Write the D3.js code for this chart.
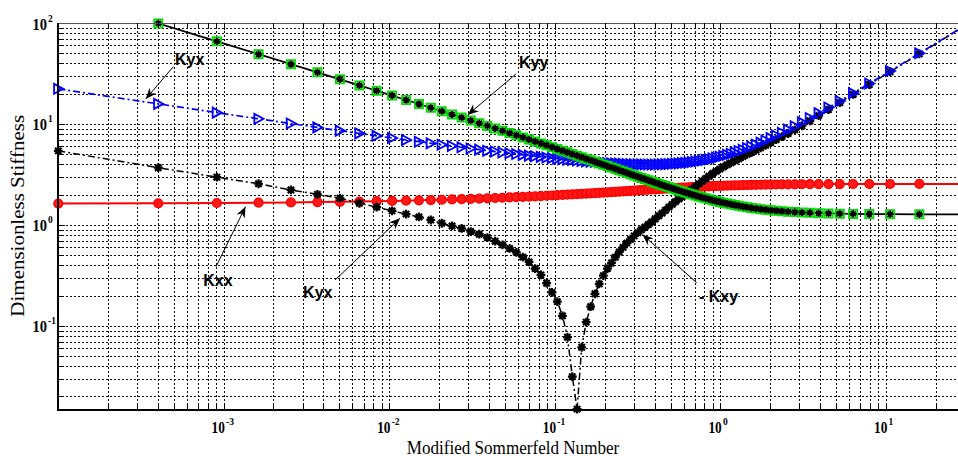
<!DOCTYPE html>
<html>
<head>
<meta charset="utf-8">
<script src="https://cdn.jsdelivr.net/npm/d3@7"></script>
<style>
  body { margin: 0; background: #fff; }
  svg { display: block; }
</style>
</head>
<body>
<svg id="drawing_region"></svg>
<script>
// Modified Sommerfeld number of every computed point (high to low eccentricity)
const sommerfeld = [
  1.004e-4, 4.031e-4, 9.106e-4, 1.625e-3, 2.550e-3, 3.687e-3, 5.039e-3, 6.609e-3, 8.399e-3, 1.0414e-2,
  1.2655e-2, 1.5127e-2, 1.7833e-2, 2.0775e-2, 2.3958e-2, 2.7385e-2, 3.1062e-2, 3.4990e-2, 3.9174e-2, 4.3620e-2,
  4.8331e-2, 5.3313e-2, 5.8570e-2, 6.4109e-2, 6.9933e-2, 7.6050e-2, 8.2464e-2, 8.9180e-2, 9.6212e-2, 0.10356,
  0.11123, 0.11924, 0.12759, 0.13630, 0.14536, 0.15479, 0.16461, 0.17481, 0.18542, 0.19644,
  0.20790, 0.21980, 0.23216, 0.24501, 0.25834, 0.27219, 0.28656, 0.30151, 0.31703, 0.33316,
  0.34993, 0.36736, 0.38549, 0.40436, 0.42400, 0.44448, 0.46578, 0.48803, 0.51127, 0.53552,
  0.56088, 0.58743, 0.61525, 0.64443, 0.67509, 0.70733, 0.74128, 0.77709, 0.81500, 0.85506,
  0.89761, 0.94286, 0.99112, 1.0427, 1.0980, 1.1574, 1.2215, 1.2909, 1.3665, 1.4489,
  1.5394, 1.6393, 1.7501, 1.8740, 2.0136, 2.1722, 2.3542, 2.5653, 2.8136, 3.1102,
  3.4710, 3.9203, 4.4959, 5.2611, 6.3296, 7.9288, 10.588, 15.901, 31.824
];

// dimensionless stiffness, same order as sommerfeld
const kxx = [
  1.628, 1.639, 1.650, 1.661, 1.672, 1.684, 1.695, 1.706, 1.718, 1.729,
  1.741, 1.753, 1.764, 1.776, 1.788, 1.800, 1.812, 1.824, 1.836, 1.848,
  1.860, 1.872, 1.884, 1.896, 1.908, 1.921, 1.933, 1.945, 1.957, 1.970,
  1.982, 1.994, 2.006, 2.019, 2.031, 2.043, 2.055, 2.067, 2.080, 2.092,
  2.104, 2.116, 2.128, 2.140, 2.152, 2.163, 2.175, 2.187, 2.198, 2.210,
  2.221, 2.233, 2.244, 2.255, 2.266, 2.277, 2.287, 2.298, 2.309, 2.319,
  2.329, 2.339, 2.349, 2.359, 2.368, 2.377, 2.386, 2.395, 2.404, 2.413,
  2.421, 2.429, 2.437, 2.444, 2.452, 2.459, 2.466, 2.472, 2.479, 2.485,
  2.491, 2.496, 2.502, 2.507, 2.511, 2.516, 2.520, 2.524, 2.527, 2.531,
  2.534, 2.536, 2.539, 2.541, 2.543, 2.544, 2.545, 2.546, 2.546
];

const kyy = [
  199.1, 99.14, 65.80, 49.13, 39.12, 32.45, 27.68, 24.11, 21.32, 19.10,
  17.27, 15.75, 14.46, 13.36, 12.40, 11.56, 10.82, 10.16, 9.574, 9.043,
  8.561, 8.123, 7.723, 7.355, 7.017, 6.704, 6.414, 6.145, 5.894, 5.659,
  5.440, 5.234, 5.040, 4.857, 4.685, 4.522, 4.368, 4.222, 4.083, 3.951,
  3.826, 3.706, 3.592, 3.483, 3.380, 3.280, 3.185, 3.094, 3.007, 2.923,
  2.843, 2.766, 2.692, 2.621, 2.553, 2.487, 2.424, 2.364, 2.305, 2.249,
  2.195, 2.144, 2.094, 2.046, 2.000, 1.955, 1.913, 1.872, 1.833, 1.795,
  1.759, 1.724, 1.691, 1.659, 1.629, 1.600, 1.573, 1.546, 1.521, 1.498,
  1.475, 1.454, 1.434, 1.416, 1.398, 1.382, 1.367, 1.353, 1.340, 1.328,
  1.318, 1.308, 1.300, 1.293, 1.287, 1.282, 1.278, 1.275, 1.274
];

const kyx = [
  22.28, 15.81, 12.95, 11.25, 10.10, 9.25, 8.59, 8.07, 7.63, 7.26,
  6.95, 6.68, 6.44, 6.23, 6.04, 5.87, 5.71, 5.57, 5.44, 5.33,
  5.22, 5.12, 5.03, 4.94, 4.86, 4.79, 4.72, 4.65, 4.59, 4.53,
  4.48, 4.43, 4.39, 4.34, 4.30, 4.26, 4.23, 4.20, 4.17, 4.14,
  4.11, 4.09, 4.07, 4.05, 4.03, 4.02, 4.00, 3.99, 3.98, 3.98,
  3.97, 3.97, 3.97, 3.97, 3.98, 3.99, 4.00, 4.01, 4.03, 4.05,
  4.07, 4.10, 4.13, 4.16, 4.20, 4.25, 4.30, 4.35, 4.41, 4.48,
  4.56, 4.64, 4.74, 4.84, 4.96, 5.08, 5.23, 5.39, 5.56, 5.76,
  5.99, 6.24, 6.53, 6.86, 7.24, 7.68, 8.19, 8.79, 9.51, 10.38,
  11.46, 12.80, 14.55, 16.89, 20.19, 25.15, 33.45, 50.07, 100.0
];

// |Kxy|: falls through zero near S = 0.14, then rises as -Kxy
const kxyAbs = [
  5.41, 3.69, 2.97, 2.56, 2.22, 2.01, 1.84, 1.64, 1.50, 1.38,
  1.28, 1.20, 1.12, 1.04, 0.977, 0.923, 0.86, 0.81, 0.75, 0.69,
  0.635, 0.585, 0.535, 0.48, 0.43, 0.37, 0.32, 0.265, 0.215, 0.174,
  0.126, 0.0773, 0.0315, 0.0150, 0.0615, 0.109, 0.155, 0.208, 0.261, 0.315,
  0.37, 0.42, 0.48, 0.54, 0.60, 0.66, 0.72, 0.78, 0.84, 0.895,
  0.95, 1.01, 1.07, 1.15, 1.23, 1.31, 1.40, 1.50, 1.60, 1.70,
  1.80, 1.91, 2.02, 2.14, 2.26, 2.40, 2.55, 2.71, 2.87, 3.04,
  3.23, 3.40, 3.57, 3.76, 3.95, 4.12, 4.32, 4.52, 4.75, 5.00,
  5.22, 5.50, 5.80, 6.15, 6.55, 7.00, 7.50, 8.05, 8.75, 9.60,
  10.75, 12.1, 13.9, 16.3, 19.6, 24.6, 32.9, 49.5, 99.5
];

const xTickExponents = [-3, -2, -1, 0, 1];
const yTickExponents = [-1, 0, 1, 2];
const xTitle = 'Modified Sommerfeld Number';
const yTitle = 'Dimensionless Stiffness';

// annotations, in data units (S, stiffness)
const noteLabels = ['Kyx', 'Kyy', 'Kxx', 'Kyx', '- Kxy'];
const noteTextAt = [[5.09e-4, 38.4], [0.0608, 35.6], [7.54e-4, 0.2485], [3.02e-3, 0.1877], [0.743, 0.1737]];
const noteArrowFrom = [[4.97e-4, 36.9], [0.0583, 31.3], [9.0e-4, 0.386], [4.71e-3, 0.285], [0.719, 0.268]];
const noteArrowTo = [[3.39e-4, 17.7], [0.0298, 12.3], [1.356e-3, 1.516], [0.01162, 1.164], [0.3385, 0.804]];

var config = {
    width: 958,
    height: 456,
    left: 58,
    top: 23,
    bottom: 410,
    decade: 165.6
};

const svg = d3.select('#drawing_region')
    .attr('width', config.width)
    .attr('height', config.height);

const x = d3.scaleLog()
    .domain([1e-4, Math.pow(10, 1.5)])
    .range([config.left, config.left + 5.5 * config.decade]);

const y = d3.scaleLog()
    .domain([0.0147, 100])
    .range([config.bottom, config.top]);

const right = config.width;

svg.append('defs').append('clipPath').attr('id', 'plotclip')
    .append('rect')
    .attr('x', config.left).attr('y', config.top)
    .attr('width', right - config.left).attr('height', config.bottom - config.top);

svg.select('defs').append('marker')
    .attr('id', 'arrowhead')
    .attr('markerUnits', 'userSpaceOnUse')
    .attr('markerWidth', 14).attr('markerHeight', 14)
    .attr('refX', 0).attr('refY', 0)
    .attr('viewBox', '-12 -7 14 14')
    .attr('orient', 'auto')
    .append('path')
    .attr('d', 'M0,0 L-11,-4.5 L-7.5,0 L-11,4.5 Z')
    .attr('fill', '#000');

// grid
const grid = svg.append('g').attr('shape-rendering', 'crispEdges');
const xGrid = x.ticks().filter(t => x(t) > config.left + 1 && x(t) < right);
const yGrid = y.ticks().filter(t => y(t) > config.top + 1 && y(t) < config.bottom - 1);

grid.selectAll('.vg').data(xGrid).enter().append('line')
    .attr('x1', d => Math.round(x(d)) + 0.5).attr('x2', d => Math.round(x(d)) + 0.5)
    .attr('y1', config.top).attr('y2', config.bottom)
    .attr('stroke', '#111').attr('stroke-width', 1)
    .attr('stroke-dasharray', '2,2');

grid.selectAll('.hg').data(yGrid).enter().append('line')
    .attr('y1', d => Math.round(y(d)) + 0.5).attr('y2', d => Math.round(y(d)) + 0.5)
    .attr('x1', config.left).attr('x2', right)
    .attr('stroke', '#111').attr('stroke-width', 1)
    .attr('stroke-dasharray', '2,2');

// series
const plot = svg.append('g');
const inside = (s, v) => s >= x.domain()[0] * 0.999 && s <= 27.5 && v >= y.domain()[0] && v <= y.domain()[1] * 1.001;

function drawSeries(values, lineStyle, markerPath, markerStyle) {
    const pts = sommerfeld.map((s, i) => ({ s: s, v: values[i] }));
    if (lineStyle) {
        const line = d3.line().x(d => x(d.s)).y(d => y(d.v));
        plot.append('path')
            .datum(pts)
            .attr('clip-path', 'url(#plotclip)')
            .attr('d', line)
            .attr('fill', 'none')
            .attr('stroke', lineStyle.color)
            .attr('stroke-width', lineStyle.width)
            .attr('stroke-dasharray', lineStyle.dash || null);
    }
    plot.append('g').selectAll('path')
        .data(pts.filter(d => inside(d.s, d.v)))
        .enter()
        .append('path')
        .attr('transform', d => `translate(${x(d.s)},${y(d.v)})`)
        .attr('d', markerPath)
        .attr('fill', markerStyle.fill)
        .attr('stroke', markerStyle.stroke)
        .attr('stroke-width', markerStyle.width);
}

function asterisk(r) {
    const k = r * 0.72;
    return `M${-r},0H${r}M0,${-r}V${r}M${-k},${-k}L${k},${k}M${-k},${k}L${k},${-k}`;
}
const circlePath = d3.symbol(d3.symbolCircle, 62)();
const trianglePath = 'M-4.2,-5 L5,0 L-4.2,5 Z';
const squarePath = 'M-4.1,-4.1 H4.1 V4.1 H-4.1 Z';

drawSeries(kxx, { color: '#ff0000', width: 2 }, circlePath, { fill: '#ff1a1a', stroke: '#ff0000', width: 1.3 });
drawSeries(kxyAbs, { color: '#000', width: 1.5, dash: '7,3,2,3' }, asterisk(4.4), { fill: 'none', stroke: '#000', width: 2.2 });
drawSeries(kyx, { color: '#0000ff', width: 1.7, dash: '7,3,2,3' }, trianglePath, { fill: 'none', stroke: '#0000ff', width: 1.8 });
drawSeries(kyy, { color: '#000', width: 1.7 }, squarePath, { fill: 'none', stroke: '#00dd00', width: 1.8 });
drawSeries(kyy, null, asterisk(3.6), { fill: 'none', stroke: '#000', width: 1.8 });

// axes box and ticks
const axes = svg.append('g').attr('shape-rendering', 'crispEdges');
axes.append('line')
    .attr('x1', config.left).attr('x2', right)
    .attr('y1', config.top + 0.5).attr('y2', config.top + 0.5)
    .attr('stroke', '#555').attr('stroke-width', 1.5);

const isMajor = t => Math.abs(Math.log10(t) - Math.round(Math.log10(t))) < 1e-6;

axes.selectAll('.xt').data(xGrid).enter().append('line')
    .attr('x1', d => Math.round(x(d)) + 0.5).attr('x2', d => Math.round(x(d)) + 0.5)
    .attr('y1', config.bottom).attr('y2', d => config.bottom - (isMajor(d) ? 7 : 5))
    .attr('stroke', '#000');
axes.selectAll('.xtt').data(xGrid).enter().append('line')
    .attr('x1', d => Math.round(x(d)) + 0.5).attr('x2', d => Math.round(x(d)) + 0.5)
    .attr('y1', config.top).attr('y2', d => config.top + (isMajor(d) ? 7 : 5))
    .attr('stroke', '#000');
axes.selectAll('.yt').data(yGrid).enter().append('line')
    .attr('y1', d => Math.round(y(d)) + 0.5).attr('y2', d => Math.round(y(d)) + 0.5)
    .attr('x1', config.left).attr('x2', d => config.left + (isMajor(d) ? 7 : 5))
    .attr('stroke', '#000');

axes.append('line')
    .attr('x1', config.left).attr('x2', config.left)
    .attr('y1', config.top).attr('y2', config.bottom + 1)
    .attr('stroke', '#000').attr('stroke-width', 2);
axes.append('line')
    .attr('x1', config.left - 1).attr('x2', right)
    .attr('y1', config.bottom).attr('y2', config.bottom)
    .attr('stroke', '#000').attr('stroke-width', 2);

// tick labels
const labels = svg.append('g')
    .attr('font-family', "'Liberation Serif', 'Times New Roman', serif")
    .attr('font-weight', 'bold')
    .attr('fill', '#000');

xTickExponents.forEach(e => {
    const px = x(Math.pow(10, e));
    labels.append('text')
        .attr('x', px - 12).attr('y', 433.3)
        .attr('font-size', 16)
        .attr('textLength', 13.3).attr('lengthAdjust', 'spacingAndGlyphs')
        .text('10');
    labels.append('text')
        .attr('x', px + 2.5).attr('y', 425)
        .attr('font-size', 9.5)
        .text(String(e));
});

yTickExponents.forEach(e => {
    const py = y(Math.pow(10, e));
    labels.append('text')
        .attr('x', 47).attr('y', py + 6.5)
        .attr('text-anchor', 'end')
        .attr('font-size', 16)
        .attr('textLength', 14.5).attr('lengthAdjust', 'spacingAndGlyphs')
        .text('10');
    labels.append('text')
        .attr('x', 48).attr('y', py - 1.5)
        .attr('font-size', 9.5)
        .text(String(e));
});

// axis titles
svg.append('text')
    .attr('x', 406.7).attr('y', 453.5)
    .attr('font-family', "'Liberation Serif', 'Times New Roman', serif")
    .attr('font-size', 18)
    .attr('textLength', 212.6).attr('lengthAdjust', 'spacingAndGlyphs')
    .text(xTitle);

svg.append('text')
    .attr('transform', 'translate(24,215.8) rotate(-90)')
    .attr('text-anchor', 'middle')
    .attr('font-family', "'Liberation Serif', 'Times New Roman', serif")
    .attr('font-size', 18)
    .attr('textLength', 201.7).attr('lengthAdjust', 'spacingAndGlyphs')
    .text(yTitle);

// annotations
const notes = svg.append('g');
noteLabels.forEach((label, i) => {
    notes.append('line')
        .attr('x1', x(noteArrowFrom[i][0])).attr('y1', y(noteArrowFrom[i][1]))
        .attr('x2', x(noteArrowTo[i][0])).attr('y2', y(noteArrowTo[i][1]))
        .attr('stroke', '#000').attr('stroke-width', 1)
        .attr('marker-end', 'url(#arrowhead)');
    notes.append('text')
        .attr('x', x(noteTextAt[i][0])).attr('y', y(noteTextAt[i][1]))
        .attr('font-family', "'Liberation Sans', Arial, sans-serif")
        .attr('font-weight', 'bold')
        .attr('font-size', 16)
        .text(label);
});
</script>
</body>
</html>
